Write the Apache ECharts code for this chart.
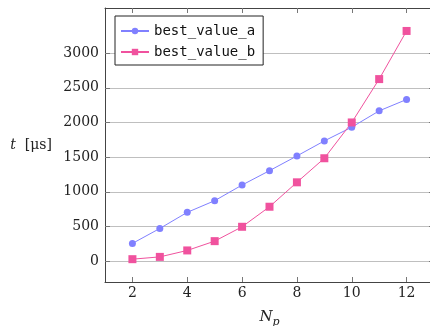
<!DOCTYPE html>
<html>
<head>
<meta charset="utf-8">
<script src="https://cdn.jsdelivr.net/npm/echarts@6/dist/echarts.min.js"></script>
<style>
  html, body { margin: 0; padding: 0; background: #fff; }
  #chart { width: 430px; height: 326px; }
</style>
</head>
<body>
<div id="chart"></div>
<script>
// N_p values and measured times (µs)
const nValues = [2, 3, 4, 5, 6, 7, 8, 9, 10, 11, 12]
const bestValueA = [256, 472, 704, 872, 1098, 1305, 1517, 1734, 1932, 2167, 2331]
const bestValueB = [29, 62, 155, 289, 496, 785, 1137, 1484, 2000, 2625, 3319]
const xTicks = [2, 4, 6, 8, 10, 12]
const yTicks = [0, 500, 1000, 1500, 2000, 2500, 3000]

const tickFont = { fontFamily: 'DejaVu Serif', fontSize: 14, color: '#222' }
const frame = { lineStyle: { color: '#444', width: 1 } }

const chart = echarts.init(document.getElementById('chart'), null, { renderer: 'canvas' })

const option = {
  animation: false,
  backgroundColor: '#fff',
  grid: { left: 105, right: -4, top: 8, bottom: 44, containLabel: false, outerBoundsMode: 'none' },
  legend: {
    orient: 'vertical',
    left: 115,
    top: 16,
    padding: [8, 8, 6, 5],
    itemWidth: 28,
    itemHeight: 8,
    itemGap: 7,
    borderColor: '#222',
    borderWidth: 1,
    backgroundColor: '#fff',
    textStyle: { fontFamily: 'DejaVu Sans Mono', fontSize: 14, lineHeight: 14, color: '#111' }
  },
  xAxis: [
    {
      type: 'value', min: 1, max: 13,
      name: '{n|N}{s|p}',
      nameLocation: 'middle', nameGap: 25,
      nameTextStyle: {
        rich: {
          n: { fontFamily: 'DejaVu Serif', fontStyle: 'italic', fontSize: 15, color: '#222' },
          s: { fontFamily: 'DejaVu Serif', fontStyle: 'italic', fontSize: 11, color: '#222', padding: [10, 0, 0, 0] }
        }
      },
      axisLine: { show: true, onZero: false, ...frame },
      axisTick: { inside: true, length: 5, customValues: xTicks, lineStyle: { color: '#777' } },
      axisLabel: { customValues: xTicks, margin: 4, ...tickFont },
      splitLine: { show: false }
    },
    {
      type: 'value', min: 1, max: 13, position: 'top',
      axisLine: { show: true, onZero: false, ...frame },
      axisTick: { inside: true, length: 5, customValues: xTicks, lineStyle: { color: '#777' } },
      axisLabel: { show: false, customValues: xTicks },
      splitLine: { show: false }
    }
  ],
  yAxis: [
    {
      type: 'value', min: -300, max: 3650,
      name: '{i|t}  [μs]',
      nameLocation: 'middle', nameRotate: 0, nameGap: 53,
      nameTextStyle: {
        align: 'right',
        rich: {
          i: { fontFamily: 'DejaVu Serif', fontStyle: 'italic', fontSize: 14, color: '#222' }
        },
        fontFamily: 'DejaVu Serif', fontSize: 14, color: '#222'
      },
      axisLine: { show: true, onZero: false, ...frame },
      axisTick: { inside: true, length: 5, customValues: yTicks, lineStyle: { color: '#777' } },
      axisLabel: { customValues: yTicks, margin: 6, formatter: v => String(v), ...tickFont },
      splitLine: { show: true, customValues: yTicks, lineStyle: { color: '#bfbfbf', width: 1 } }
    },
    {
      type: 'value', min: -300, max: 3650, position: 'right',
      axisLine: { show: true, onZero: false, ...frame },
      axisTick: { inside: true, length: 5, customValues: yTicks, lineStyle: { color: '#777' } },
      axisLabel: { show: false, customValues: yTicks },
      splitLine: { show: false }
    }
  ],
  series: [
    {
      name: 'best_value_a',
      type: 'line',
      data: nValues.map((n, i) => [n, bestValueA[i]]),
      symbol: 'circle',
      symbolSize: 7,
      color: '#8080ff',
      lineStyle: { width: 1, color: '#8080ff' },
      itemStyle: { color: '#8080ff' }
    },
    {
      name: 'best_value_b',
      type: 'line',
      data: nValues.map((n, i) => [n, bestValueB[i]]),
      symbol: 'rect',
      symbolSize: 8,
      color: '#f0529e',
      lineStyle: { width: 1, color: '#f0529e' },
      itemStyle: { color: '#f0529e' }
    }
  ]
}

chart.setOption(option)
</script>
</body>
</html>
